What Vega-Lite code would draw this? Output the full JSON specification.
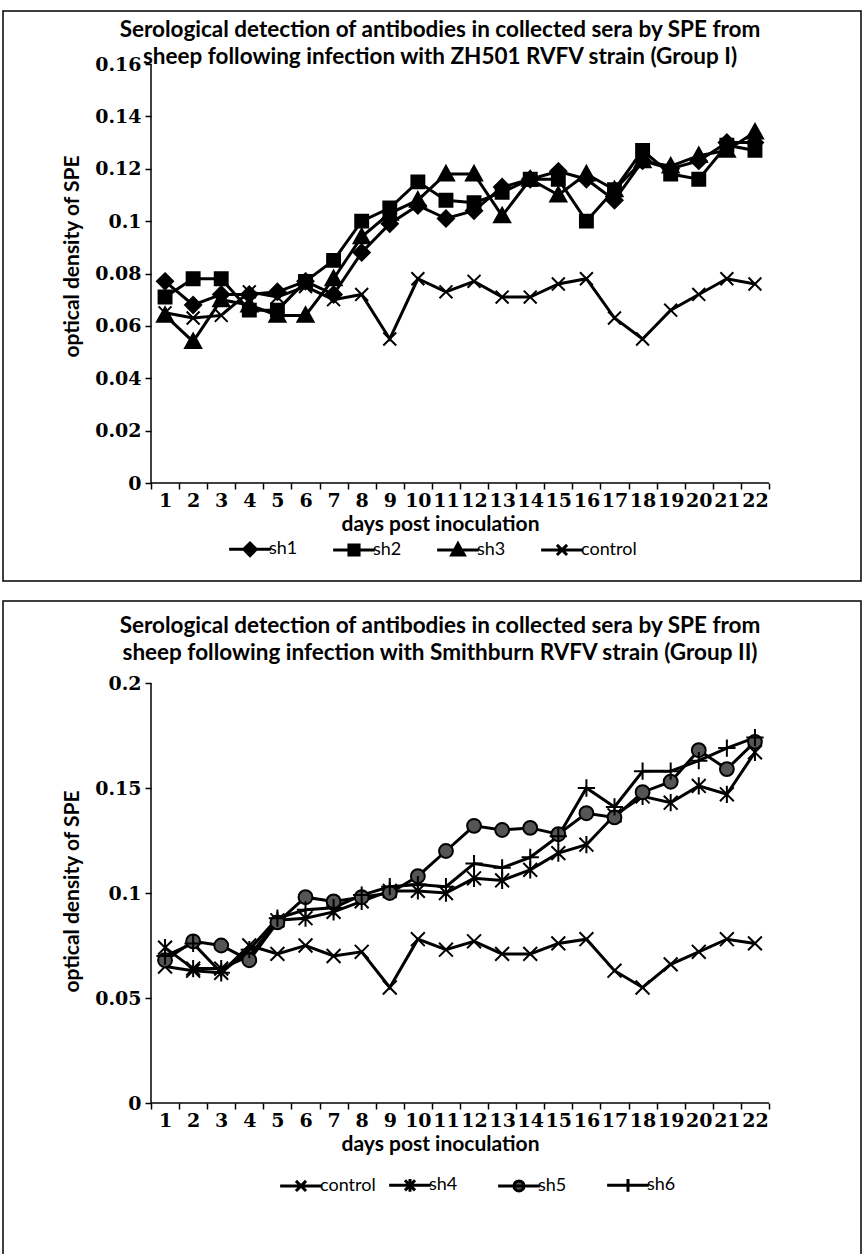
{
  "$schema": "https://vega.github.io/schema/vega-lite/v6.json",
  "padding": {"left": 2, "top": 10, "right": 0, "bottom": 0},
  "spacing": 18,
  "background": "white",
  "resolve": {"scale": {"shape": "independent", "fill": "independent", "stroke": "independent"}, "legend": {"shape": "independent", "fill": "independent", "stroke": "independent"}},
  "config": {
    "view": {"stroke": "black", "strokeWidth": 1.5},
    "axis": {"grid": false, "domain": false, "ticks": true, "tickColor": "black", "tickWidth": 1.5, "tickSize": 6, "labelColor": "black", "labelFont": "DejaVu Serif", "labelFontSize": 19, "labelFontWeight": "bold", "titleColor": "black", "titleFont": "Lato", "titleFontSize": 21, "titleFontWeight": "bold"},
    "title": {"font": "Lato", "fontSize": 22.5, "fontWeight": "bold", "color": "black", "anchor": "middle", "frame": "group", "lineHeight": 27, "dx": 8},
    "legend": {"labelFont": "Lato", "labelFontSize": 18, "labelColor": "black", "symbolSize": 160, "symbolStrokeWidth": 3, "symbolOpacity": 1, "labelOffset": 10, "gridAlign": "all"}
  },
  "datasets": {
    "g1": [
      {"day":1,"series":"sh1","od":0.077},{"day":2,"series":"sh1","od":0.068},{"day":3,"series":"sh1","od":0.072},{"day":4,"series":"sh1","od":0.072},{"day":5,"series":"sh1","od":0.073},{"day":6,"series":"sh1","od":0.077},{"day":7,"series":"sh1","od":0.072},{"day":8,"series":"sh1","od":0.088},{"day":9,"series":"sh1","od":0.099},{"day":10,"series":"sh1","od":0.106},{"day":11,"series":"sh1","od":0.101},{"day":12,"series":"sh1","od":0.104},{"day":13,"series":"sh1","od":0.113},{"day":14,"series":"sh1","od":0.116},{"day":15,"series":"sh1","od":0.119},{"day":16,"series":"sh1","od":0.116},{"day":17,"series":"sh1","od":0.108},{"day":18,"series":"sh1","od":0.123},{"day":19,"series":"sh1","od":0.120},{"day":20,"series":"sh1","od":0.123},{"day":21,"series":"sh1","od":0.130},{"day":22,"series":"sh1","od":0.130},
      {"day":1,"series":"sh2","od":0.071},{"day":2,"series":"sh2","od":0.078},{"day":3,"series":"sh2","od":0.078},{"day":4,"series":"sh2","od":0.066},{"day":5,"series":"sh2","od":0.066},{"day":6,"series":"sh2","od":0.077},{"day":7,"series":"sh2","od":0.085},{"day":8,"series":"sh2","od":0.100},{"day":9,"series":"sh2","od":0.105},{"day":10,"series":"sh2","od":0.115},{"day":11,"series":"sh2","od":0.108},{"day":12,"series":"sh2","od":0.107},{"day":13,"series":"sh2","od":0.111},{"day":14,"series":"sh2","od":0.116},{"day":15,"series":"sh2","od":0.116},{"day":16,"series":"sh2","od":0.100},{"day":17,"series":"sh2","od":0.112},{"day":18,"series":"sh2","od":0.127},{"day":19,"series":"sh2","od":0.118},{"day":20,"series":"sh2","od":0.116},{"day":21,"series":"sh2","od":0.129},{"day":22,"series":"sh2","od":0.127},
      {"day":1,"series":"sh3","od":0.064},{"day":2,"series":"sh3","od":0.054},{"day":3,"series":"sh3","od":0.070},{"day":4,"series":"sh3","od":0.068},{"day":5,"series":"sh3","od":0.064},{"day":6,"series":"sh3","od":0.064},{"day":7,"series":"sh3","od":0.078},{"day":8,"series":"sh3","od":0.094},{"day":9,"series":"sh3","od":0.103},{"day":10,"series":"sh3","od":0.108},{"day":11,"series":"sh3","od":0.118},{"day":12,"series":"sh3","od":0.118},{"day":13,"series":"sh3","od":0.102},{"day":14,"series":"sh3","od":0.116},{"day":15,"series":"sh3","od":0.110},{"day":16,"series":"sh3","od":0.118},{"day":17,"series":"sh3","od":0.112},{"day":18,"series":"sh3","od":0.123},{"day":19,"series":"sh3","od":0.121},{"day":20,"series":"sh3","od":0.125},{"day":21,"series":"sh3","od":0.127},{"day":22,"series":"sh3","od":0.134},
      {"day":1,"series":"control","od":0.065},{"day":2,"series":"control","od":0.063},{"day":3,"series":"control","od":0.064},{"day":4,"series":"control","od":0.073},{"day":5,"series":"control","od":0.071},{"day":6,"series":"control","od":0.075},{"day":7,"series":"control","od":0.070},{"day":8,"series":"control","od":0.072},{"day":9,"series":"control","od":0.055},{"day":10,"series":"control","od":0.078},{"day":11,"series":"control","od":0.073},{"day":12,"series":"control","od":0.077},{"day":13,"series":"control","od":0.071},{"day":14,"series":"control","od":0.071},{"day":15,"series":"control","od":0.076},{"day":16,"series":"control","od":0.078},{"day":17,"series":"control","od":0.063},{"day":18,"series":"control","od":0.055},{"day":19,"series":"control","od":0.066},{"day":20,"series":"control","od":0.072},{"day":21,"series":"control","od":0.078},{"day":22,"series":"control","od":0.076}
    ],
    "g2": [
      {"day":1,"series":"control","od":0.065},{"day":2,"series":"control","od":0.063},{"day":3,"series":"control","od":0.062},{"day":4,"series":"control","od":0.075},{"day":5,"series":"control","od":0.071},{"day":6,"series":"control","od":0.075},{"day":7,"series":"control","od":0.070},{"day":8,"series":"control","od":0.072},{"day":9,"series":"control","od":0.055},{"day":10,"series":"control","od":0.078},{"day":11,"series":"control","od":0.073},{"day":12,"series":"control","od":0.077},{"day":13,"series":"control","od":0.071},{"day":14,"series":"control","od":0.071},{"day":15,"series":"control","od":0.076},{"day":16,"series":"control","od":0.078},{"day":17,"series":"control","od":0.063},{"day":18,"series":"control","od":0.055},{"day":19,"series":"control","od":0.066},{"day":20,"series":"control","od":0.072},{"day":21,"series":"control","od":0.078},{"day":22,"series":"control","od":0.076},
      {"day":1,"series":"sh4","od":0.074},{"day":2,"series":"sh4","od":0.064},{"day":3,"series":"sh4","od":0.064},{"day":4,"series":"sh4","od":0.070},{"day":5,"series":"sh4","od":0.087},{"day":6,"series":"sh4","od":0.088},{"day":7,"series":"sh4","od":0.091},{"day":8,"series":"sh4","od":0.096},{"day":9,"series":"sh4","od":0.101},{"day":10,"series":"sh4","od":0.101},{"day":11,"series":"sh4","od":0.100},{"day":12,"series":"sh4","od":0.107},{"day":13,"series":"sh4","od":0.106},{"day":14,"series":"sh4","od":0.111},{"day":15,"series":"sh4","od":0.119},{"day":16,"series":"sh4","od":0.123},{"day":17,"series":"sh4","od":0.137},{"day":18,"series":"sh4","od":0.146},{"day":19,"series":"sh4","od":0.143},{"day":20,"series":"sh4","od":0.151},{"day":21,"series":"sh4","od":0.147},{"day":22,"series":"sh4","od":0.167},
      {"day":1,"series":"sh5","od":0.068},{"day":2,"series":"sh5","od":0.077},{"day":3,"series":"sh5","od":0.075},{"day":4,"series":"sh5","od":0.068},{"day":5,"series":"sh5","od":0.086},{"day":6,"series":"sh5","od":0.098},{"day":7,"series":"sh5","od":0.096},{"day":8,"series":"sh5","od":0.098},{"day":9,"series":"sh5","od":0.100},{"day":10,"series":"sh5","od":0.108},{"day":11,"series":"sh5","od":0.120},{"day":12,"series":"sh5","od":0.132},{"day":13,"series":"sh5","od":0.130},{"day":14,"series":"sh5","od":0.131},{"day":15,"series":"sh5","od":0.128},{"day":16,"series":"sh5","od":0.138},{"day":17,"series":"sh5","od":0.136},{"day":18,"series":"sh5","od":0.148},{"day":19,"series":"sh5","od":0.153},{"day":20,"series":"sh5","od":0.168},{"day":21,"series":"sh5","od":0.159},{"day":22,"series":"sh5","od":0.172},
      {"day":1,"series":"sh6","od":0.070},{"day":2,"series":"sh6","od":0.076},{"day":3,"series":"sh6","od":0.062},{"day":4,"series":"sh6","od":0.073},{"day":5,"series":"sh6","od":0.088},{"day":6,"series":"sh6","od":0.092},{"day":7,"series":"sh6","od":0.093},{"day":8,"series":"sh6","od":0.099},{"day":9,"series":"sh6","od":0.103},{"day":10,"series":"sh6","od":0.104},{"day":11,"series":"sh6","od":0.103},{"day":12,"series":"sh6","od":0.114},{"day":13,"series":"sh6","od":0.112},{"day":14,"series":"sh6","od":0.117},{"day":15,"series":"sh6","od":0.127},{"day":16,"series":"sh6","od":0.150},{"day":17,"series":"sh6","od":0.141},{"day":18,"series":"sh6","od":0.158},{"day":19,"series":"sh6","od":0.158},{"day":20,"series":"sh6","od":0.163},{"day":21,"series":"sh6","od":0.169},{"day":22,"series":"sh6","od":0.174}
    ]
  },
  "vconcat": [
    {
      "width": 858,
      "height": 570,
      "title": {"text": ["Serological detection of antibodies in collected sera by SPE from", "sheep following infection with ZH501 RVFV strain (Group I)"], "offset": -57},
      "data": {"name": "g1"},
      "layer": [
        {
          "mark": {"type": "line", "color": "black", "strokeWidth": 3},
          "encoding": {
            "x": {"field": "day", "type": "ordinal", "scale": {"type": "band", "paddingInner": 0, "paddingOuter": 0, "range": [148, 766]},
                  "axis": {"orient": "bottom", "offset": -98, "tickBand": "extent", "labelAngle": 0, "ticks": true, "tickSize": 6, "tickWidth": 1.5, "labelPadding": 2, "title": "days post inoculation", "titlePadding": 3, "titleX": 437}},
            "y": {"field": "od", "type": "quantitative", "scale": {"domain": [-0.03742, 0.18024], "nice": false, "zero": false},
                  "axis": {"orient": "left", "offset": -148, "values": [0,0.02,0.04,0.06,0.08,0.1,0.12,0.14,0.16], "format": ".2~f", "ticks": true, "tickSize": 6, "tickWidth": 1.5, "labelPadding": 4, "title": "optical density of SPE", "titlePadding": 12, "titleY": 245}},
            "detail": {"field": "series"}
          }
        },
        {
          "transform": [{"filter": "datum.series == 'sh1'"}],
          "mark": {"type": "point", "shape": "M0,-1L1,0L0,1L-1,0Z", "filled": true, "color": "black", "stroke": "black", "strokeWidth": 2, "size": 260, "opacity": 1},
          "encoding": {"x": {"field": "day", "type": "ordinal"}, "y": {"field": "od", "type": "quantitative"}}
        },
        {
          "transform": [{"filter": "datum.series == 'sh2'"}],
          "mark": {"type": "point", "shape": "M-0.8,-0.8H0.8V0.8H-0.8Z", "filled": true, "color": "black", "stroke": "black", "strokeWidth": 2, "size": 260, "opacity": 1},
          "encoding": {"x": {"field": "day", "type": "ordinal"}, "y": {"field": "od", "type": "quantitative"}}
        },
        {
          "transform": [{"filter": "datum.series == 'sh3'"}],
          "mark": {"type": "point", "shape": "M0,-1L1,0.8L-1,0.8Z", "filled": true, "color": "black", "stroke": "black", "strokeWidth": 2, "size": 260, "opacity": 1},
          "encoding": {"x": {"field": "day", "type": "ordinal"}, "y": {"field": "od", "type": "quantitative"}}
        },
        {
          "transform": [{"filter": "datum.series == 'control'"}],
          "mark": {"type": "point", "shape": "M-0.8,-0.8L0.8,0.8M-0.8,0.8L0.8,-0.8", "filled": false, "color": "black", "strokeWidth": 2, "size": 260, "opacity": 1},
          "encoding": {"x": {"field": "day", "type": "ordinal"}, "y": {"field": "od", "type": "quantitative"}}
        },
        {
          "mark": {"type": "point", "filled": true, "strokeWidth": 3, "opacity": 1, "clip": true},
          "encoding": {
            "x": {"field": "day", "type": "ordinal"},
            "y": {"datum": -1, "type": "quantitative"},
            "shape": {"field": "series", "type": "nominal",
                      "scale": {"domain": ["sh1", "sh2", "sh3", "control"], "range": ["M-3.3,0L3.3,0M0,-1L1,0L0,1L-1,0Z", "M-3.3,0L3.3,0M-0.8,-0.8H0.8V0.8H-0.8Z", "M-3.3,0L3.3,0M0,-1L1,0.8L-1,0.8Z", "M-3.3,0L3.3,0M-0.8,-0.8L0.8,0.8M-0.8,0.8L0.8,-0.8"]},
                      "legend": {"orient": "none", "legendX": 238, "legendY": 529, "direction": "horizontal", "title": null, "columnPadding": 2, "symbolOpacity": 1}},
            "fill": {"field": "series", "type": "nominal",
                     "scale": {"domain": ["sh1", "sh2", "sh3", "control"], "range": ["black", "black", "black", "black"]},
                     "legend": {"orient": "none", "legendX": 238, "legendY": 529, "direction": "horizontal", "title": null, "columnPadding": 2, "symbolOpacity": 1}},
            "stroke": {"field": "series", "type": "nominal",
                       "scale": {"domain": ["sh1", "sh2", "sh3", "control"], "range": ["black", "black", "black", "black"]},
                       "legend": {"orient": "none", "legendX": 238, "legendY": 529, "direction": "horizontal", "title": null, "columnPadding": 2, "symbolOpacity": 1}}
          }
        },
        {
          "data": {"values": [{}]},
          "mark": {"type": "rule", "color": "black", "strokeWidth": 1.5},
          "encoding": {"x": {"datum": 1, "type": "ordinal", "bandPosition": 0}, "x2": {"datum": 22, "bandPosition": 1}, "y": {"datum": 0, "type": "quantitative"}}
        },
        {
          "data": {"values": [{}]},
          "mark": {"type": "rule", "color": "black", "strokeWidth": 1.5},
          "encoding": {"x": {"datum": 1, "type": "ordinal", "bandPosition": 0}, "y": {"datum": 0, "type": "quantitative"}, "y2": {"datum": 0.16}}
        }
      ]
    },
    {
      "width": 858,
      "height": 654,
      "title": {"text": ["Serological detection of antibodies in collected sera by SPE from", "sheep following infection with Smithburn RVFV strain (Group II)"], "offset": -63},
      "data": {"name": "g2"},
      "layer": [
        {
          "mark": {"type": "line", "color": "black", "strokeWidth": 3},
          "encoding": {
            "x": {"field": "day", "type": "ordinal", "scale": {"type": "band", "paddingInner": 0, "paddingOuter": 0, "range": [148, 766]},
                  "axis": {"orient": "bottom", "offset": -152, "tickBand": "extent", "labelAngle": 0, "ticks": true, "tickSize": 6, "tickWidth": 1.5, "labelPadding": 2, "title": "days post inoculation", "titlePadding": 3, "titleX": 437}},
            "y": {"field": "od", "type": "quantitative", "scale": {"domain": [-0.07238, 0.23905], "nice": false, "zero": false},
                  "axis": {"orient": "left", "offset": -148, "values": [0,0.05,0.1,0.15,0.2], "format": ".2~f", "ticks": true, "tickSize": 6, "tickWidth": 1.5, "labelPadding": 4, "title": "optical density of SPE", "titlePadding": 12, "titleY": 290}},
            "detail": {"field": "series"}
          }
        },
        {
          "transform": [{"filter": "datum.series == 'control'"}],
          "mark": {"type": "point", "shape": "M-0.8,-0.8L0.8,0.8M-0.8,0.8L0.8,-0.8", "filled": false, "color": "black", "strokeWidth": 2, "size": 300, "opacity": 1},
          "encoding": {"x": {"field": "day", "type": "ordinal"}, "y": {"field": "od", "type": "quantitative"}}
        },
        {
          "transform": [{"filter": "datum.series == 'sh4'"}],
          "mark": {"type": "point", "shape": "M-0.8,-0.8L0.8,0.8M-0.8,0.8L0.8,-0.8M0,-1L0,1", "filled": false, "color": "black", "strokeWidth": 2, "size": 300, "opacity": 1},
          "encoding": {"x": {"field": "day", "type": "ordinal"}, "y": {"field": "od", "type": "quantitative"}}
        },
        {
          "transform": [{"filter": "datum.series == 'sh5'"}],
          "mark": {"type": "point", "shape": "M0.8,0A0.8,0.8,0,1,1,-0.8,0A0.8,0.8,0,1,1,0.8,0Z", "filled": true, "color": "#555555", "stroke": "black", "strokeWidth": 2, "size": 300, "opacity": 1},
          "encoding": {"x": {"field": "day", "type": "ordinal"}, "y": {"field": "od", "type": "quantitative"}}
        },
        {
          "transform": [{"filter": "datum.series == 'sh6'"}],
          "mark": {"type": "point", "shape": "M-1,0L1,0M0,-1L0,1", "filled": false, "color": "black", "strokeWidth": 2, "size": 300, "opacity": 1},
          "encoding": {"x": {"field": "day", "type": "ordinal"}, "y": {"field": "od", "type": "quantitative"}}
        },
        {
          "mark": {"type": "point", "filled": true, "strokeWidth": 3, "opacity": 1, "clip": true},
          "encoding": {
            "x": {"field": "day", "type": "ordinal"},
            "y": {"datum": -1, "type": "quantitative"},
            "shape": {"field": "series", "type": "nominal",
                      "scale": {"domain": ["control", "sh4", "sh5", "sh6"], "range": ["M-3.3,0L3.3,0M-0.8,-0.8L0.8,0.8M-0.8,0.8L0.8,-0.8", "M-3.3,0L3.3,0M-0.8,-0.8L0.8,0.8M-0.8,0.8L0.8,-0.8M0,-1L0,1", "M-3.3,0L3.3,0M0.8,0A0.8,0.8,0,1,1,-0.8,0A0.8,0.8,0,1,1,0.8,0Z", "M-3.3,0L3.3,0M0,-1L0,1"]},
                      "legend": {"orient": "none", "legendX": 289, "legendY": 575, "direction": "horizontal", "title": null, "columnPadding": 7, "symbolOpacity": 1}},
            "fill": {"field": "series", "type": "nominal",
                     "scale": {"domain": ["control", "sh4", "sh5", "sh6"], "range": ["black", "black", "#555555", "black"]},
                     "legend": {"orient": "none", "legendX": 289, "legendY": 575, "direction": "horizontal", "title": null, "columnPadding": 7, "symbolOpacity": 1}},
            "stroke": {"field": "series", "type": "nominal",
                       "scale": {"domain": ["control", "sh4", "sh5", "sh6"], "range": ["black", "black", "black", "black"]},
                       "legend": {"orient": "none", "legendX": 289, "legendY": 575, "direction": "horizontal", "title": null, "columnPadding": 7, "symbolOpacity": 1}}
          }
        },
        {
          "data": {"values": [{}]},
          "mark": {"type": "rule", "color": "black", "strokeWidth": 1.5},
          "encoding": {"x": {"datum": 1, "type": "ordinal", "bandPosition": 0}, "x2": {"datum": 22, "bandPosition": 1}, "y": {"datum": 0, "type": "quantitative"}}
        },
        {
          "data": {"values": [{}]},
          "mark": {"type": "rule", "color": "black", "strokeWidth": 1.5},
          "encoding": {"x": {"datum": 1, "type": "ordinal", "bandPosition": 0}, "y": {"datum": 0, "type": "quantitative"}, "y2": {"datum": 0.2}}
        }
      ]
    }
  ]
}
